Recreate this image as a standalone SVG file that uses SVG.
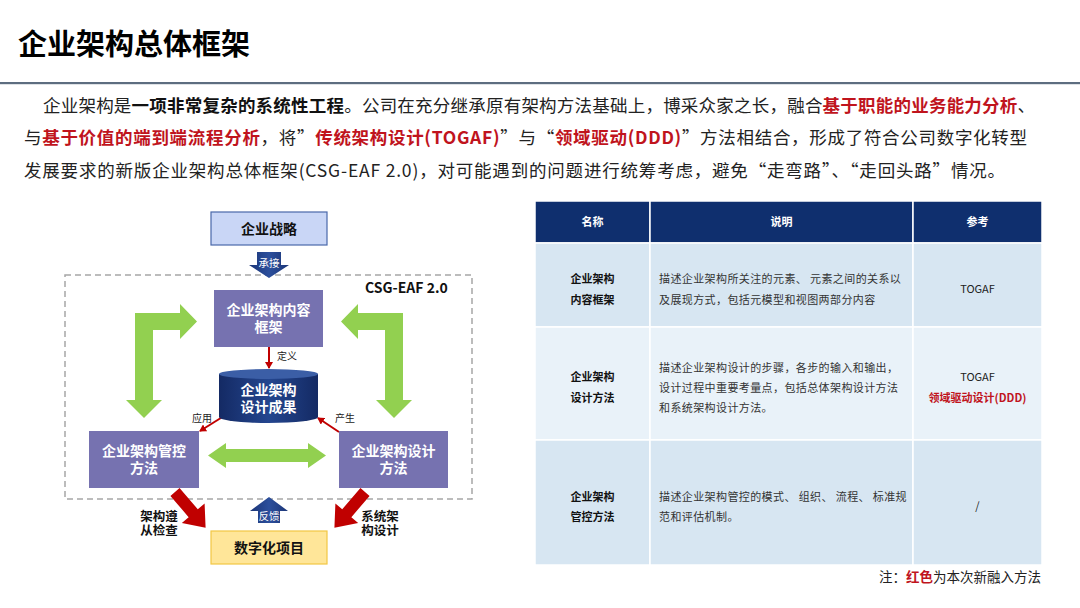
<svg xmlns="http://www.w3.org/2000/svg" width="1080" height="608" viewBox="0 0 1080 608">
<defs>
<style>
text{font-family:"Noto Sans CJK SC","Liberation Sans",sans-serif;}
.t{font-size:29px;font-weight:bold;fill:#000;}
.p{font-size:17.5px;fill:#222;}
.b{font-weight:bold;fill:#111;}
.r{font-weight:bold;fill:#c0141d;}
.box{fill:#7672b0;}
.wt{font-size:14px;font-weight:bold;fill:#fff;text-anchor:middle;}
.bt{font-size:14px;font-weight:bold;fill:#111;text-anchor:middle;}
.sm{font-size:10px;fill:#222;}
.lbl{font-size:12.5px;font-weight:bold;fill:#111;text-anchor:middle;}
.green{fill:#92d050;}
.red{fill:#c00000;}
.rl{stroke:#c00000;stroke-width:2;fill:none;marker-end:url(#ah);}
.hd{fill:#0f2f6e;}
.c1{fill:#d7e6f2;}
.c2{fill:#e9f2f9;}
.cell{stroke:#fff;stroke-width:1.5;}
.ht{font-size:11px;font-weight:bold;fill:#fff;text-anchor:middle;}
.nt{font-size:11px;font-weight:bold;fill:#111;text-anchor:middle;}
.dt{font-size:11px;fill:#333;letter-spacing:0.4px;}
.rt{font-size:11px;fill:#222;text-anchor:middle;}
</style>
<marker id="ah" markerWidth="8" markerHeight="8" refX="6" refY="4" orient="auto" markerUnits="userSpaceOnUse">
<path d="M0,0 L7,4 L0,8 Z" fill="#c00000"/>
</marker>
<linearGradient id="blue" x1="0" y1="0" x2="1" y2="0">
<stop offset="0" stop-color="#1b3577"/>
<stop offset="0.5" stop-color="#2c4f9c"/>
<stop offset="1" stop-color="#1b3577"/>
</linearGradient>
<linearGradient id="cyl" x1="0" y1="0" x2="1" y2="0">
<stop offset="0" stop-color="#142a64"/>
<stop offset="0.5" stop-color="#24468f"/>
<stop offset="1" stop-color="#142a64"/>
</linearGradient>
</defs>
<rect width="1080" height="608" fill="#fff"/>

<g id="title">
<text class="t" x="18" y="55">企业架构总体框架</text>
<rect x="0" y="82" width="1080" height="2.2" fill="#5d6d80"/>
</g>

<g id="paragraph">
<text class="p" x="43" y="112" textLength="992" lengthAdjust="spacing">企业架构是<tspan class="b">一项非常复杂的系统性工程</tspan>。公司在充分继承原有架构方法基础上，博采众家之长，融合<tspan class="r">基于职能的业务能力分析</tspan>、</text>
<text class="p" x="24" y="144" textLength="1003" lengthAdjust="spacing">与<tspan class="r">基于价值的端到端流程分析</tspan>，将”<tspan class="r">传统架构设计(TOGAF)</tspan>”与“<tspan class="r">领域驱动(DDD)</tspan>”方法相结合，形成了符合公司数字化转型</text>
<text class="p" x="24" y="177" textLength="981" lengthAdjust="spacing">发展要求的新版企业架构总体框架(CSG-EAF 2.0)，对可能遇到的问题进行统筹考虑，避免“走弯路”、“走回头路”情况。</text>
</g>

<g id="boundary">
<rect x="65" y="275" width="407" height="224" fill="none" stroke="#a6a6a6" stroke-width="1.5" stroke-dasharray="6 4"/>
<text x="365" y="293" style="font-size:14px;font-weight:bold;fill:#111;">CSG-EAF 2.0</text>
</g>

<g id="connectors">
<path class="green" d="M126,400 L135,400 V313 H180 V304 L197,321.5 L180,339 V330 H153 V400 H162 L144,418 Z"/>
<path class="green" d="M412,400 L403,400 V313 H358 V304 L341,321.5 L358,339 V330 H385 V400 H376 L394,418 Z"/>
<path class="green" d="M208,455.5 L226,443 V449 H308 V443 L326,455.5 L308,468 V462 H226 V468 Z"/>
<g>
<path d="M257,252 H281 V265 H289 L269,278 L249,265 H257 Z" fill="url(#blue)"/>
<text x="269" y="267" style="font-size:10.5px;fill:#fff;text-anchor:middle;">承接</text>
</g>
<g>
<path d="M258,523 V511 H250 L269,497 L288,511 H280 V523 Z" fill="url(#blue)"/>
<text x="269" y="520" style="font-size:10.5px;fill:#fff;text-anchor:middle;">反馈</text>
</g>
<line class="rl" x1="269" y1="347" x2="269" y2="368"/>
<text class="sm" x="277" y="360">定义</text>
<line class="rl" x1="224" y1="416" x2="200" y2="431"/>
<text class="sm" x="192" y="422">应用</text>
<line class="rl" x1="339" y1="432" x2="318" y2="418"/>
<text class="sm" x="335" y="422">产生</text>
<path class="red" transform="translate(175,492) rotate(49.4)" d="M0,-6 H28 V-15 L47,0 L28,15 V6 H0 Z"/>
<path class="red" transform="translate(365,492) rotate(130.6)" d="M0,-6 H28 V-15 L47,0 L28,15 V6 H0 Z"/>
<text class="lbl" x="159" y="521">架构遵<tspan x="159" dy="14">从检查</tspan></text>
<text class="lbl" x="380" y="521">系统架<tspan x="380" dy="14">构设计</tspan></text>
</g>

<g id="strategy">
<rect x="211" y="212" width="116" height="33" fill="#c9d6f6" stroke="#4a68aa" stroke-width="1.2"/>
<text class="bt" x="269" y="234">企业战略</text>
</g>

<g id="content-framework">
<rect class="box" x="214" y="290" width="109" height="57"/>
<text class="wt" x="268.5" y="315">企业架构内容<tspan x="268.5" dy="17">框架</tspan></text>
</g>

<g id="design-results">
<path d="M219,374 V417 A49.5,6 0 0 0 318,417 V374 Z" fill="url(#cyl)"/>
<ellipse cx="268.5" cy="374" rx="49.5" ry="5" fill="#3b5ea6"/>
<text class="wt" x="268.5" y="395">企业架构<tspan x="268.5" dy="17">设计成果</tspan></text>
</g>

<g id="governance-method">
<rect class="box" x="89" y="431" width="110" height="57"/>
<text class="wt" x="144" y="456">企业架构管控<tspan x="144" dy="17">方法</tspan></text>
</g>

<g id="design-method">
<rect class="box" x="339" y="431" width="109" height="57"/>
<text class="wt" x="393.5" y="456">企业架构设计<tspan x="393.5" dy="17">方法</tspan></text>
</g>

<g id="digital-project">
<rect x="211" y="531" width="116" height="33" fill="#ffe699" stroke="#f2c744" stroke-width="1.2"/>
<text class="bt" x="269" y="553">数字化项目</text>
</g>

<g id="table">
<rect class="hd cell" x="535" y="201" width="115" height="42"/>
<rect class="hd cell" x="650" y="201" width="263" height="42"/>
<rect class="hd cell" x="913" y="201" width="129" height="42"/>
<rect class="c1 cell" x="535" y="243" width="115" height="84"/>
<rect class="c1 cell" x="650" y="243" width="263" height="84"/>
<rect class="c1 cell" x="913" y="243" width="129" height="84"/>
<rect class="c2 cell" x="535" y="327" width="115" height="113"/>
<rect class="c2 cell" x="650" y="327" width="263" height="113"/>
<rect class="c2 cell" x="913" y="327" width="129" height="113"/>
<rect class="c1 cell" x="535" y="440" width="115" height="125"/>
<rect class="c1 cell" x="650" y="440" width="263" height="125"/>
<rect class="c1 cell" x="913" y="440" width="129" height="125"/>
<text class="ht" x="592.5" y="226">名称</text>
<text class="ht" x="781.5" y="226">说明</text>
<text class="ht" x="977.5" y="226">参考</text>
<text class="nt" x="592.5" y="283">企业架构<tspan x="592.5" dy="21">内容框架</tspan></text>
<text class="dt" x="659" y="283">描述企业架构所关注的元素、 元素之间的关系以<tspan x="659" dy="21">及展现方式，包括元模型和视图两部分内容</tspan></text>
<text class="rt" x="977.5" y="293">TOGAF</text>
<text class="nt" x="592.5" y="381">企业架构<tspan x="592.5" dy="21">设计方法</tspan></text>
<text class="dt" x="659" y="372">描述企业架构设计的步骤，各步的输入和输出，<tspan x="659" dy="20">设计过程中重要考量点，包括总体架构设计方法</tspan><tspan x="659" dy="20">和系统架构设计方法。</tspan></text>
<text class="rt" x="977.5" y="381">TOGAF<tspan x="977.5" dy="21" style="font-weight:bold;fill:#c0141d;">领域驱动设计(DDD)</tspan></text>
<text class="nt" x="592.5" y="501">企业架构<tspan x="592.5" dy="20">管控方法</tspan></text>
<text class="dt" x="659" y="501">描述企业架构管控的模式、 组织、 流程、 标准规<tspan x="659" dy="20">范和评估机制。</tspan></text>
<text class="rt" x="977.5" y="510">/</text>
</g>

<g id="note">
<text x="1041" y="582" text-anchor="end" style="font-size:13.5px;fill:#222;">注：<tspan style="font-weight:bold;fill:#c0141d;">红色</tspan>为本次新融入方法</text>
</g>
</svg>
